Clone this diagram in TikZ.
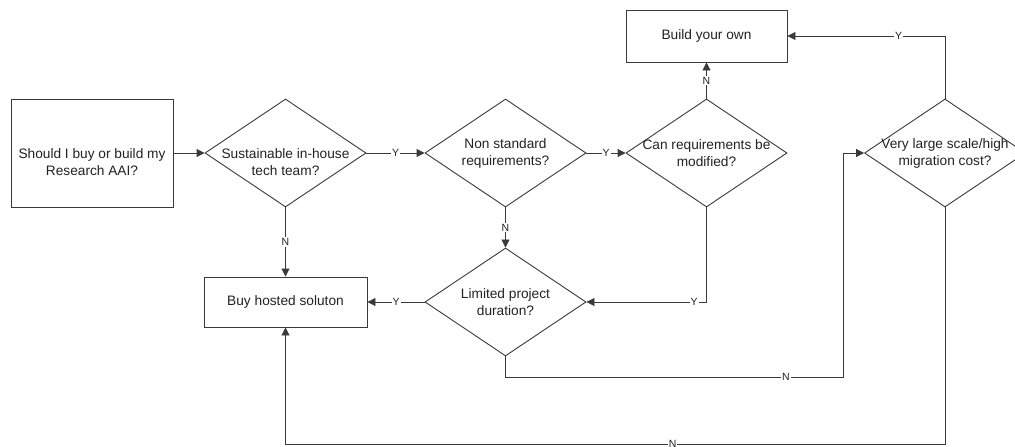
\documentclass[tikz,border=0pt]{standalone}
\usepackage{fontspec}
\setmainfont{Liberation Sans}
\usetikzlibrary{shapes.geometric,arrows.meta}
\definecolor{ln}{HTML}{3A3A3A}
\definecolor{tx}{HTML}{222222}
\begin{document}
\begin{tikzpicture}[x=1pt,y=-1pt,
  box/.style={draw=ln,line width=0.9pt,inner sep=0pt,fill=white},
  dec/.style={diamond,draw=ln,line width=0.9pt,minimum width=161pt,minimum height=108pt,inner sep=0pt},
  txt/.style={font=\fontsize{13.7}{17}\selectfont,text=tx,align=center,inner sep=0pt},
  lbl/.style={font=\fontsize{10.5}{12}\selectfont,text=tx,fill=white,inner sep=1pt},
  arr/.style={draw=ln,line width=0.9pt,-{Triangle[length=8pt,width=8pt]}}]
\useasboundingbox (0,0) rectangle (1015,447);
% nodes
\node[box,minimum width=162pt,minimum height=108pt] (st) at (92,153) {};
\node[txt] at (92,162) {Should I buy or build my\\Research AAI?};
\node[dec] (d1) at (285.5,153) {};
\node[txt] at (285.5,162.5) {Sustainable in-house\\tech team?};
\node[dec] (d2) at (505.5,153) {};
\node[txt] at (505.5,153) {Non standard\\requirements?};
\node[dec] (d3) at (706.5,153) {};
\node[txt] at (706.5,153) {Can requirements be\\modified?};
\node[dec] (d4) at (945,153) {};
\node[txt] at (945,153) {Very large scale/high\\migration cost?};
\node[dec] (lim) at (505.5,302) {};
\node[txt] at (505.5,302) {Limited project\\duration?};
\node[box,minimum width=163pt,minimum height=50pt] (buy) at (285.5,302) {};
\node[txt] at (285.5,302) {Buy hosted soluton};
\node[box,minimum width=161pt,minimum height=52pt] (bld) at (706.5,36) {};
\node[txt] at (706.5,36) {Build your own};
% helper coordinates
\coordinate (k1) at (505.5,377);
\coordinate (k2) at (843,377);
\coordinate (k3) at (843,153);
\coordinate (m1) at (945,444);
\coordinate (m2) at (285.5,444);
% connectors
\draw[arr] (st) -- (d1);
\draw[arr] (d1) -- node[lbl]{Y} (d2);
\draw[arr] (d2) -- node[lbl]{Y} (d3);
\draw[arr] (d1) -- node[lbl]{N} (buy);
\draw[arr] (d2) -- node[lbl]{N} (lim);
\draw[arr] (lim) -- node[lbl]{Y} (buy);
\draw[arr] (d3) -- node[lbl]{N} (bld);
\draw[arr] (d3.south) |- node[lbl,pos=0.552]{Y} (lim.east);
\draw[arr] (d4.north) |- node[lbl,pos=0.647]{Y} (bld.east);
\draw[arr] (lim.south) -- (k1) -- node[lbl,pos=0.831]{N} (k2) -- (k3) -- (d4.west);
\draw[arr] (d4.south) -- (m1) -- node[lbl,pos=0.413]{N} (m2) -- (buy.south);
\end{tikzpicture}
\end{document}
